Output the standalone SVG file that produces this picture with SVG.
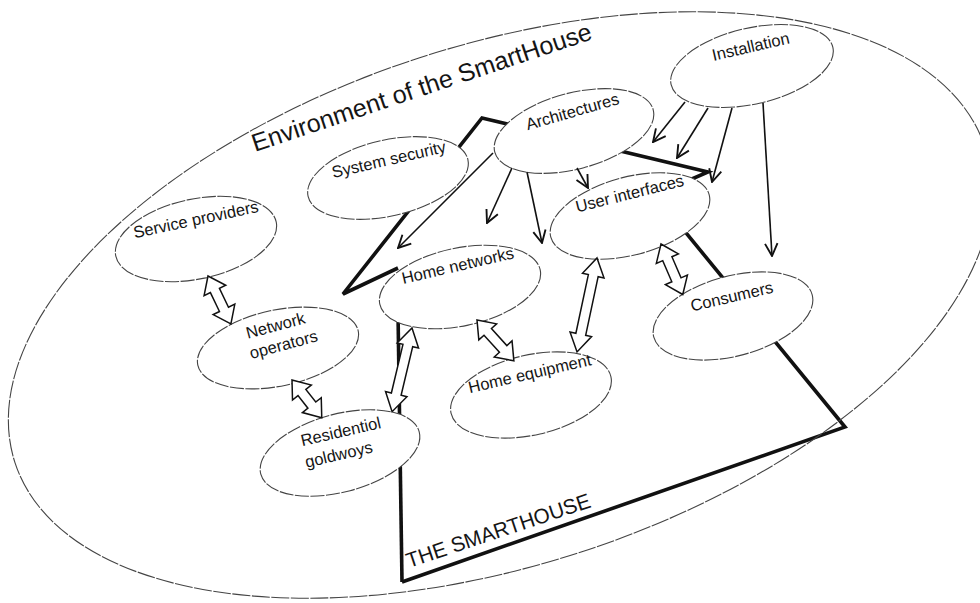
<svg xmlns="http://www.w3.org/2000/svg" width="980" height="603" viewBox="0 0 980 603">
<defs>
<style>
.bg{fill:#ffffff}
.env{fill:none;stroke:#444;stroke-width:1.1;stroke-dasharray:18 1.5}
.house{fill:none;stroke:#111;stroke-width:3.6;stroke-linejoin:miter;stroke-linecap:butt}
.node ellipse{fill:#ffffff;stroke:#444;stroke-width:1.1;stroke-dasharray:14 1.5}
.lbl{font-family:"Liberation Sans",Arial,sans-serif;font-size:16.5px;fill:#151515;text-anchor:middle}
.title{font-family:"Liberation Sans",Arial,sans-serif;fill:#151515}
.thin{fill:none;stroke:#111;stroke-width:1.6;marker-end:url(#vhead)}
.block{fill:#ffffff;stroke:#111;stroke-width:1.5;stroke-linejoin:miter}
</style>
<marker id="vhead" viewBox="0 0 12 12" refX="11" refY="6" markerWidth="15" markerHeight="15" markerUnits="userSpaceOnUse" orient="auto">
<path d="M1,1 L11,6 L1,11" fill="none" stroke="#111" stroke-width="1.5"/>
</marker>
</defs>
<rect class="bg" x="0" y="0" width="980" height="603"/>

<g id="smarthouse-outline">
<path class="house" d="M402,582 L398,312"/>
<path class="house" d="M398,268 L343,294 L482,118 L708,172 L655,195 L845,427 L402,582"/>
</g>

<g id="nodes">
<g id="installation" class="node">
<ellipse cx="752" cy="66" rx="83" ry="38" transform="rotate(-13 752 66)"/>
<text class="lbl" x="752" y="52" transform="rotate(-13 752 52)">Installation</text>
</g>
<g id="architectures" class="node">
<ellipse cx="574" cy="131" rx="82" ry="38" transform="rotate(-15 574 131)"/>
<text class="lbl" x="574" y="117" transform="rotate(-16 574 117)">Architectures</text>
</g>
<g id="system-security" class="node">
<ellipse cx="388" cy="178" rx="82" ry="38" transform="rotate(-13 388 178)"/>
<text class="lbl" x="390" y="165" transform="rotate(-13 390 165)">System security</text>
</g>
<g id="service-providers" class="node">
<ellipse cx="196" cy="239" rx="82" ry="40" transform="rotate(-12 196 239)"/>
<text class="lbl" x="197" y="225" transform="rotate(-12 197 225)">Service providers</text>
</g>
<g id="network-operators" class="node">
<ellipse cx="278" cy="348" rx="82" ry="38" transform="rotate(-12 278 348)"/>
<text class="lbl" x="277" y="331" transform="rotate(-15 277 331)">Network</text>
<text class="lbl" x="285" y="350" transform="rotate(-15 285 350)">operators</text>
</g>
<g id="residential-gateways" class="node">
<ellipse cx="340" cy="453" rx="82" ry="39" transform="rotate(-15 340 453)"/>
<text class="lbl" x="342" y="437" transform="rotate(-13 342 437)">Residentiol</text>
<text class="lbl" x="340" y="460" transform="rotate(-13 340 460)">goldwoys</text>
</g>
<g id="home-networks" class="node">
<ellipse cx="460" cy="287" rx="82" ry="39" transform="rotate(-12 460 287)"/>
<text class="lbl" x="459" y="271" transform="rotate(-13 459 271)">Home networks</text>
</g>
<g id="user-interfaces" class="node">
<ellipse cx="630" cy="216" rx="82" ry="39" transform="rotate(-15 630 216)"/>
<text class="lbl" x="631" y="199" transform="rotate(-14 631 199)">User interfaces</text>
</g>
<g id="home-equipment" class="node">
<ellipse cx="531" cy="395" rx="82" ry="40" transform="rotate(-13 531 395)"/>
<text class="lbl" x="531" y="379" transform="rotate(-13 531 379)">Home equipment</text>
</g>
<g id="consumers" class="node">
<ellipse cx="733" cy="316" rx="82" ry="40" transform="rotate(-15 733 316)"/>
<text class="lbl" x="733" y="302" transform="rotate(-13 733 302)">Consumers</text>
</g>
</g>

<g id="environment">
<ellipse class="env" cx="500" cy="305" rx="510" ry="260" transform="rotate(-18 500 305)"/>
<text class="title" x="255" y="152" font-size="25" textLength="357" lengthAdjust="spacingAndGlyphs" transform="rotate(-18.5 255 152)">Environment of the SmartHouse</text>
<text class="title" x="409" y="568" font-size="21" textLength="193" lengthAdjust="spacingAndGlyphs" transform="rotate(-18.5 409 568)">THE SMARTHOUSE</text>
</g>

<g id="connectors">
<path class="thin" d="M685,102 L653,142"/>
<path class="thin" d="M708,108 L677,158"/>
<path class="thin" d="M732,108 L712,182"/>
<path class="thin" d="M763,103 L772,256"/>
<path class="thin" d="M493,153 L398,248"/>
<path class="thin" d="M512,168 L487,223"/>
<path class="thin" d="M527,172 L542,243"/>
<path class="thin" d="M577,168 L588,188"/>
<polygon class="block" points="0,0 16,-12 16,-5 37,-5 37,-12 53,0 37,12 37,5 16,5 16,12" transform="translate(208 276) rotate(64.4)"/>
<polygon class="block" points="0,0 16,-12 16,-5 32,-5 32,-12 48,0 32,12 32,5 16,5 16,12" transform="translate(292 380) rotate(51.7)"/>
<polygon class="block" points="0,0 18,-11 18,-5 68,-5 68,-11 86,0 68,11 68,5 18,5 18,11" transform="translate(412 328) rotate(103.4)"/>
<polygon class="block" points="0,0 16,-12 16,-5 39,-5 39,-12 55,0 39,12 39,5 16,5 16,12" transform="translate(477 320) rotate(47.9)"/>
<polygon class="block" points="0,0 18,-11 18,-5 78,-5 78,-11 96,0 78,11 78,5 18,5 18,11" transform="translate(597 258) rotate(102)"/>
<polygon class="block" points="0,0 16,-12 16,-5 39,-5 39,-12 55,0 39,12 39,5 16,5 16,12" transform="translate(661 244) rotate(66.7)"/>
</g>
</svg>
